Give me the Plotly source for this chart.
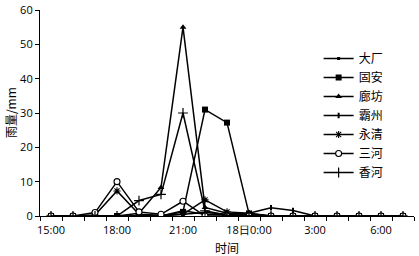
import plotly.graph_objects as go

hours = ["15:00","16:00","17:00","18:00","19:00","20:00","21:00","22:00","23:00",
         "0:00","1:00","2:00","3:00","4:00","5:00","6:00","7:00"]
tick_labels = ["15:00","18:00","21:00","18日0:00","3:00","6:00"]
tick_index = [0, 3, 6, 9, 12, 15]

dachang  = [0,0,0,0,0,0,1.5,0.5,0.3,0.3,0,0,0,0,0,0,0]
guan     = [0,0,0,0,0,0,1.2,31,27.2,0.7,0,0,0,0,0,0,0]
langfang = [0,0,0,0,0.8,8.3,55,2.5,0.8,0.5,0,0,0,0,0,0,0]
bazhou   = [0,0,0,0,0,0,0.5,1,0.5,0.8,2.4,1.6,0,0,0,0,0]
yongqing = [0,0,0.3,7.3,0.5,0.2,0.5,4.7,1.2,0.8,0,0,0,0,0,0,0]
sanhe    = [0,0,1,10,1.2,0.5,4.3,0,0,0,0,0,0,0,0,0,0]
xianghe  = [0,0,0,0,4.5,6.3,30,1.5,0.2,0,0,0,0,0,0,0,0]

series = [
    ("大厂", dachang, dict(symbol="square", size=3, color="black")),
    ("固安", guan, dict(symbol="square", size=6, color="black")),
    ("廊坊", langfang, dict(symbol="triangle-up", size=6, color="black")),
    ("霸州", bazhou, dict(symbol="line-ns-open", size=4, color="black", line=dict(width=2, color="black"))),
    ("永清", yongqing, dict(symbol="asterisk-open", size=6, color="black", line=dict(width=1.1, color="black"))),
    ("三河", sanhe, dict(symbol="circle", size=6, color="white", line=dict(width=1.1, color="black"))),
    ("香河", xianghe, dict(symbol="cross-thin-open", size=7, color="black", line=dict(width=1.2, color="black"))),
]

x = list(range(len(hours)))
fig = go.Figure()
for name, vals, mk in series:
    fig.add_trace(go.Scatter(x=x, y=vals, name=name, mode="lines+markers",
                             line=dict(color="black", width=1.5), marker=mk))

fig.update_layout(
    width=419, height=256,
    margin=dict(l=40, r=5, t=10, b=40),
    paper_bgcolor="white", plot_bgcolor="white",
    showlegend=True,
    legend=dict(x=0.745, y=0.835, xanchor="left", yanchor="top",
                font=dict(family="Noto Sans CJK SC", size=12, color="black"),
                itemwidth=30, bgcolor="rgba(0,0,0,0)", tracegroupgap=0),
    xaxis=dict(range=[-0.5, 16.5], tickvals=tick_index, ticktext=tick_labels,
               automargin=False,
               showline=True, linecolor="black", linewidth=1.2, showgrid=False,
               zeroline=False, ticks="", ticklabelstandoff=4,
               minor=dict(ticks="outside", tick0=-0.5, dtick=1, ticklen=4,
                          tickcolor="black", showgrid=False),
               tickfont=dict(family="Open Sans", size=11, color="black")),
    yaxis=dict(range=[0, 60], dtick=10, showline=True, linecolor="black", linewidth=1.2,
               automargin=False,
               showgrid=False, zeroline=False, ticks="outside", ticklen=4,
               tickcolor="black",
               tickfont=dict(family="Open Sans", size=11, color="black")),
    annotations=[
        dict(text="时间", xref="paper", yref="paper", x=0.5, y=-0.152,
             xanchor="center", yanchor="middle", showarrow=False,
             font=dict(family="Noto Sans CJK SC", size=12, color="black")),
        dict(text="雨量/mm", xref="paper", yref="paper", x=-0.08, y=0.5,
             xanchor="center", yanchor="middle", showarrow=False, textangle=-90,
             font=dict(family="Noto Sans CJK SC", size=12, color="black")),
    ],
)

fig.write_html("out.html", config={"displayModeBar": False},
               post_script="document.body.style.margin='0';document.body.style.padding='0';")
